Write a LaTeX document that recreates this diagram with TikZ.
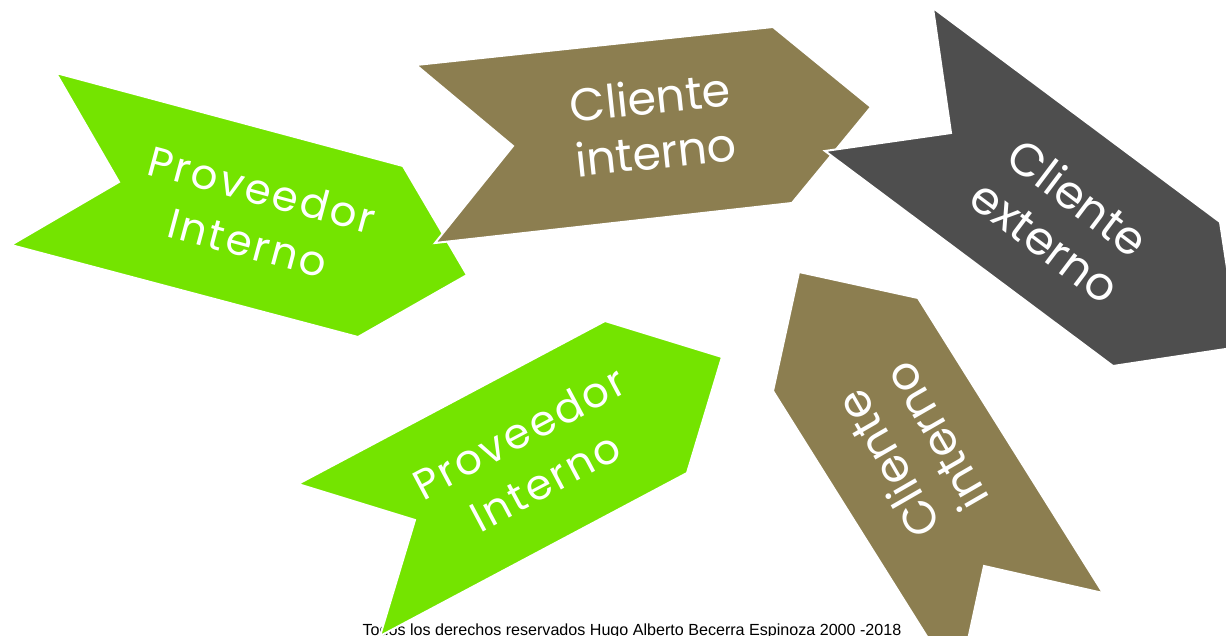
\documentclass[tikz,border=0pt]{standalone}
\usepackage{fontspec}
\setmainfont{Poppins}
\newfontfamily\footfont{Liberation Sans}
\definecolor{verde}{RGB}{116,228,0}
\definecolor{cafe}{RGB}{140,126,80}
\definecolor{gris}{RGB}{78,78,78}

\begin{document}
\begin{tikzpicture}[x=1pt, y=-1pt,
    flecha/.style={draw=white, line width=2pt, line join=miter},
    letrero/.style={text=white, align=center, inner sep=0pt, font=\fontsize{46}{55}\selectfont},
    espaciado/.style={letrero, font=\addfontfeature{LetterSpace=6}\fontsize{42}{55}\selectfont}]
    \useasboundingbox (0,0) rectangle (1226,636);
    \clip (0,0) rectangle (1226,636);
    % pie de pagina (queda debajo de la flecha verde)
    \node (pie) at (632,635) [anchor=base, font=\footfont\fontsize{16.1}{19}\selectfont] {Todos los derechos reservados Hugo Alberto Becerra Espinoza 2000 -2018};
    % flechas de arriba
    \draw [flecha, fill=verde] (56,73) -- (403,166) -- (467,275) -- (358,337) -- (11,245) -- (119,182) -- cycle;
    \node (prov1) at (255,216) [espaciado, rotate=-15] {Proveedor\\Interno};
    \draw [flecha, fill=cafe] (416,65) -- (773,27) -- (871,107) -- (792,203) -- (435,243) -- (513,146) -- cycle;
    \node (cli1) at (653,124) [letrero, rotate=6] {Cliente\\interno};
    \draw [flecha, fill=gris] (933,8) -- (1220,222) -- (1239,347) -- (1113,366) -- (825,151) -- (951,133) -- cycle;
    \node (ext) at (1062,219) [letrero, rotate=-37] {Cliente\\externo};
    % flechas de abajo
    \draw [flecha, fill=verde] (298,484) -- (605,321) -- (722,357) -- (687,473) -- (380,636) -- (415,520) -- cycle;
    \node (prov2) at (532,457) [espaciado, rotate=28] {Proveedor\\Interno};
    \draw [flecha, fill=cafe] (799,272) -- (918,298) -- (1103,593) -- (984,566) -- (958,686) -- (773,391) -- cycle;
    \node (cli2) at (911,451) [letrero, rotate=120] {Cliente\\interno};
\end{tikzpicture}
\end{document}
